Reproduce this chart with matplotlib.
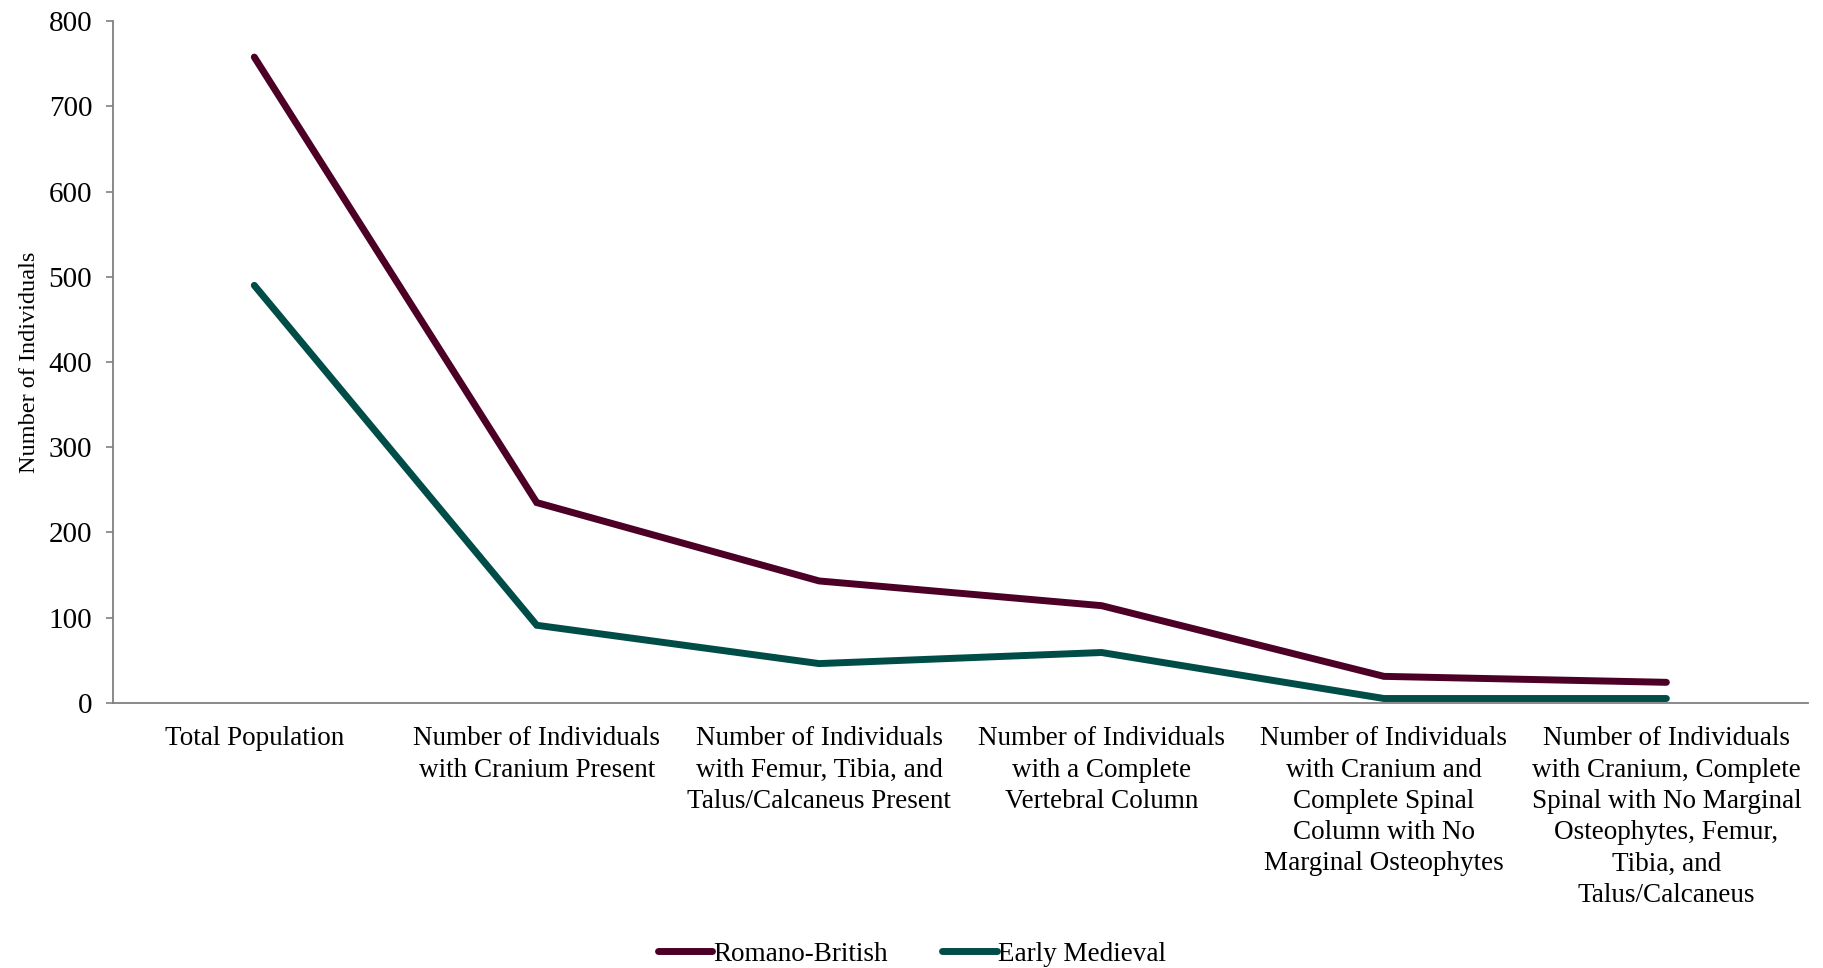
import matplotlib
matplotlib.use('Agg')
import matplotlib.pyplot as plt

categories = [
    'Total Population',
    'Number of Individuals\nwith Cranium Present',
    'Number of Individuals\nwith Femur, Tibia, and\nTalus/Calcaneus Present',
    'Number of Individuals\nwith a Complete\nVertebral Column',
    'Number of Individuals\nwith Cranium and\nComplete Spinal\nColumn with No\nMarginal Osteophytes',
    'Number of Individuals\nwith Cranium, Complete\nSpinal with No Marginal\nOsteophytes, Femur,\nTibia, and\nTalus/Calcaneus',
]
romano_british = [758, 235, 143, 114, 31, 24]
early_medieval = [490, 91, 46, 59, 5, 5]
yticks = [0, 100, 200, 300, 400, 500, 600, 700, 800]

plt.rcParams['font.family'] = ['Liberation Serif', 'DejaVu Serif']

fig = plt.figure(figsize=(18.24, 9.68), dpi=100)
ax = fig.add_axes([0.062, 0.274, 0.929, 0.704])

x = range(len(categories))
ax.plot(x, romano_british, color='#4d0026', lw=5, solid_capstyle='round',
        solid_joinstyle='miter', label='Romano-British')
ax.plot(x, early_medieval, color='#004d47', lw=5, solid_capstyle='round',
        solid_joinstyle='miter', label='Early Medieval')

ax.set_xlim(-0.5, len(categories) - 0.5)
ax.set_ylim(0, 800)
ax.set_yticks(yticks)
ax.set_xticks(list(x))
ax.set_xticklabels(categories, fontsize=19.5, linespacing=1.33)
ax.tick_params(axis='x', length=0, pad=17)
ax.tick_params(axis='y', labelsize=21, length=5, color='#808080', width=1.2, pad=10)
ax.set_ylabel('Number of Individuals', fontsize=17.5, labelpad=6)

for s in ['top', 'right']:
    ax.spines[s].set_visible(False)
for s in ['left', 'bottom']:
    ax.spines[s].set_color('#808080')
    ax.spines[s].set_linewidth(1.3)

leg = fig.legend(loc='lower center', bbox_to_anchor=(0.5, -0.024), ncol=2, frameon=False,
                 fontsize=19.5, handlelength=2.0, handletextpad=0.05, columnspacing=2.0)

fig.savefig('out.png', dpi=100)
